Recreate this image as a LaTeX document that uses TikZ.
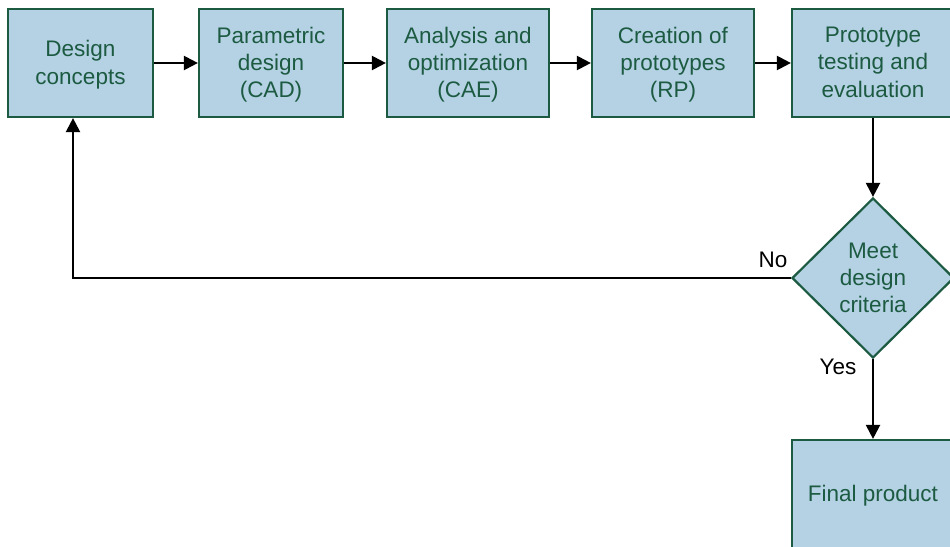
\documentclass[tikz,border=0pt]{standalone}
\usepackage{fontspec}
\setmainfont{Liberation Sans}
\usetikzlibrary{shapes.geometric,arrows.meta}
\definecolor{boxfill}{HTML}{B4D2E3}
\definecolor{boxline}{HTML}{1C5A42}
\begin{document}
\begin{tikzpicture}[x=1pt,y=-1pt,
  every node/.style={font=\fontsize{22.5}{27.3}\selectfont},
  stepbox/.style={draw=boxline,fill=boxfill,line width=2.2pt,text=boxline,
    align=center,inner sep=0pt,minimum height=108pt,text depth=1.5pt},
  decision/.style={diamond,draw=boxline,fill=boxfill,line width=2.2pt,text=boxline,
    align=center,inner sep=0pt,minimum width=162pt,minimum height=160pt},
  flow/.style={draw=black,line width=2.2pt,-{Triangle[length=14pt,width=14pt]}},
  tag/.style={text=black}]
\useasboundingbox (0,0) rectangle (950,546);
\node[stepbox,minimum width=145pt] (concepts) at (80.5,63) {Design\\concepts};
\node[stepbox,minimum width=144pt] (cad) at (271,63) {Parametric\\design\\(CAD)};
\node[stepbox,minimum width=162pt] (cae) at (468,63) {Analysis and\\optimization\\(CAE)};
\node[stepbox,minimum width=162pt] (rp) at (673,63) {Creation of\\prototypes\\(RP)};
\node[stepbox,minimum width=162pt] (test) at (873,63) {Prototype\\testing and\\evaluation};
\node[decision] (meet) at (873,278) {Meet\\design\\criteria};
\node[stepbox,minimum width=162pt] (final) at (873,494) {Final product};
\coordinate (corner) at (73,278);
\draw[flow] (concepts) -- (cad);
\draw[flow] (cad) -- (cae);
\draw[flow] (cae) -- (rp);
\draw[flow] (rp) -- (test);
\draw[flow] (test) -- (meet);
\draw[flow] (meet) -- (final);
\draw[flow] (meet.west) -- (corner) -- (corner |- concepts.south);
\node[tag] (no) at (773,260) {No};
\node[tag] (yes) at (838,367) {Yes};
\end{tikzpicture}
\end{document}
